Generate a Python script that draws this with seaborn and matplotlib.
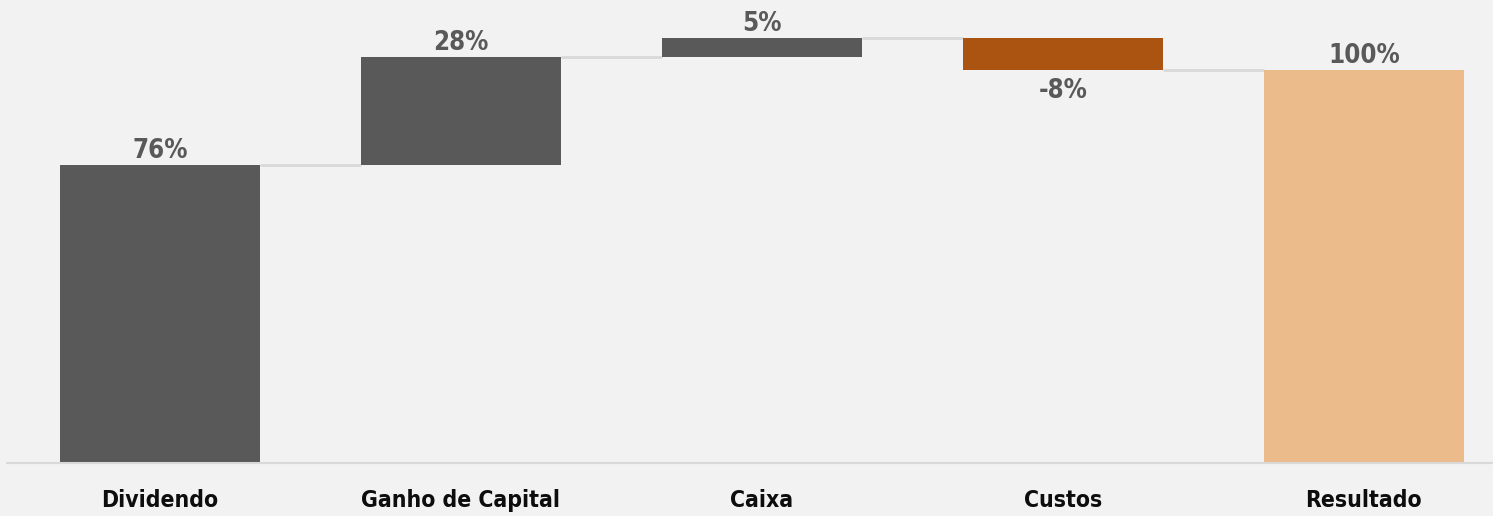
import pandas as pd
import seaborn as sns
import matplotlib.pyplot as plt

# dados do gráfico (em %)
categorias = ['Dividendo', 'Ganho de Capital', 'Caixa', 'Custos', 'Resultado']
valores = [75.8, 27.5, 4.8, -8.1, 100.0]
rotulos = ['76%', '28%', '5%', '-8%', '100%']
cores = ['#595959', '#595959', '#595959', '#ab5310', '#ebbb8c']

# base de cada barra (acumulado)
bases = []
acum = 0
for i, v in enumerate(valores):
    if i == len(valores) - 1:
        bases.append(0)
    else:
        bases.append(acum)
        acum += v
topos = [b + v for b, v in zip(bases, valores)]

df = pd.DataFrame({'Categoria': categorias, 'Valor': valores})

sns.set_style('white')
plt.rcParams['font.family'] = ['DejaVu Sans']
plt.rcParams['font.stretch'] = 'condensed'

fig = plt.figure(figsize=(14.93, 5.16), dpi=100, facecolor='#f2f2f2')
ax = fig.add_axes([7 / 1493, 53 / 516, 1 - 7 / 1493, 463 / 516])
ax.set_facecolor('#f2f2f2')

largura = 0.664
sns.barplot(x='Categoria', y='Valor', hue='Categoria', data=df, palette=cores,
            width=largura, legend=False, ax=ax, saturation=1,
            edgecolor='none', linewidth=0)

# desloca as barras para a posição do acumulado
for p, b in zip(ax.patches, bases):
    p.set_y(b)

# linhas de ligação
for i in range(len(valores) - 1):
    nivel = topos[i]
    ax.hlines(nivel, i + largura / 2, i + 1 - largura / 2, color='#d9d9d9', lw=2, zorder=0)

# rótulos de valor
for i, (v, t, b) in enumerate(zip(valores, rotulos, bases)):
    if v >= 0:
        ax.annotate(t, (i, b + v), xytext=(0, 1), textcoords='offset points',
                    ha='center', va='bottom', fontsize=18.5, fontweight='bold',
                    fontstretch='condensed', color='#595959')
    else:
        ax.annotate(t, (i, b + v), xytext=(0, -6), textcoords='offset points',
                    ha='center', va='top', fontsize=18.5, fontweight='bold',
                    fontstretch='condensed', color='#595959')

ax.set_xlim(-0.508, 4.429)
ax.set_ylim(0, 463 / 3.93)
ax.set_xlabel('')
ax.set_ylabel('')
ax.set_yticks([])
ax.tick_params(axis='x', length=0, pad=19)
for lbl in ax.get_xticklabels():
    lbl.set_fontsize(16.5)
    lbl.set_fontweight('bold')
    lbl.set_fontstretch('condensed')
    lbl.set_color('#0d0d0d')

for s in ['top', 'right', 'left']:
    ax.spines[s].set_visible(False)
ax.spines['bottom'].set_color('#d9d9d9')
ax.spines['bottom'].set_linewidth(1.5)

fig.savefig('out.png', dpi=100, facecolor='#f2f2f2')
